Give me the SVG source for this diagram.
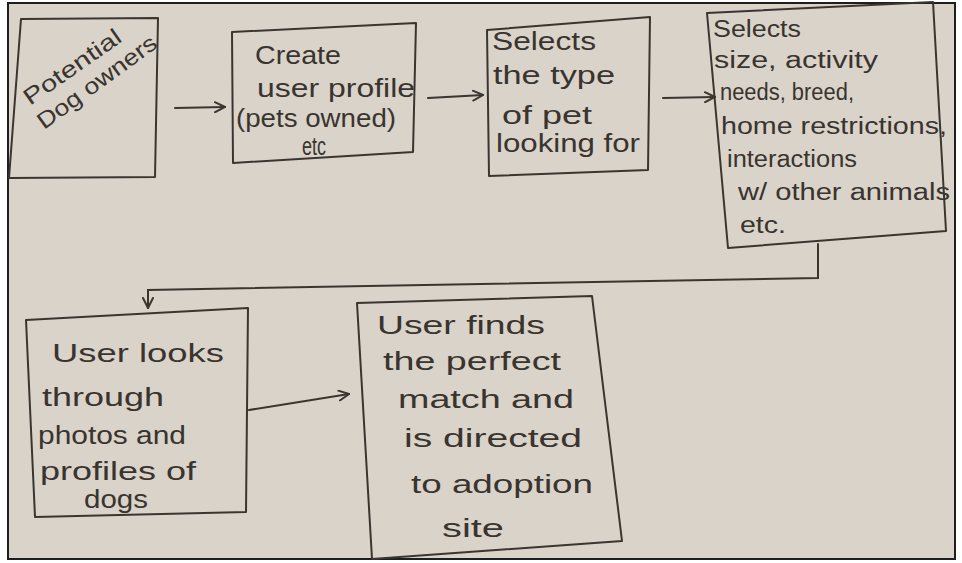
<svg xmlns="http://www.w3.org/2000/svg" width="962" height="563" viewBox="0 0 962 563">
<style>
.box{fill:none;stroke:#3b3530;stroke-width:2;stroke-linejoin:round}
.t{font-family:"Liberation Sans","DejaVu Sans",sans-serif;font-size:25px;fill:#3a342e}
.s{font-size:23px}
.line{fill:none;stroke:#3b3530;stroke-width:2;stroke-linecap:round}
</style>
<defs>
<marker id="ah" viewBox="0 0 12 12" refX="11" refY="6" markerWidth="12" markerHeight="12" markerUnits="userSpaceOnUse" orient="auto">
<path d="M1,1 L11,6 L1,11" fill="none" stroke="#3b3530" stroke-width="2" stroke-linecap="round"/>
</marker>
</defs>
<rect x="0" y="0" width="962" height="563" fill="#ffffff"/>
<rect x="8" y="3" width="947" height="556" fill="#d9d3ca" stroke="#1e1e1e" stroke-width="2"/>
<g id="node-potential-owners">
<polygon class="box" points="21,19 158,18 155,177 9,178"/>
<text class="t s" x="30" y="106" transform="rotate(-35 30 106)" textLength="114" lengthAdjust="spacingAndGlyphs" fill="#5e5750">Potential</text>
<text class="t s" x="44" y="130" transform="rotate(-36 44 130)" textLength="142" lengthAdjust="spacingAndGlyphs">Dog owners</text>
</g>
<g id="node-create-profile">
<polygon class="box" points="232,32 416,23 413,152 233,163"/>
<text class="t" x="255" y="64" textLength="86" lengthAdjust="spacingAndGlyphs">Create</text>
<text class="t" x="257" y="97" textLength="158" lengthAdjust="spacingAndGlyphs">user profile</text>
<text class="t" x="236" y="127" font-size="22" textLength="160" lengthAdjust="spacingAndGlyphs">(pets owned)</text>
<text class="t" x="302" y="155" font-size="11" textLength="24" lengthAdjust="spacingAndGlyphs">etc</text>
</g>
<g id="node-select-type">
<polygon class="box" points="487,30 650,17 648,170 489,176"/>
<text class="t" x="492" y="50" textLength="104" lengthAdjust="spacingAndGlyphs">Selects</text>
<text class="t" x="493" y="84" textLength="122" lengthAdjust="spacingAndGlyphs">the type</text>
<text class="t" x="502" y="124" textLength="90" lengthAdjust="spacingAndGlyphs">of pet</text>
<text class="t" x="496" y="152" textLength="144" lengthAdjust="spacingAndGlyphs">looking for</text>
</g>
<g id="node-select-attributes">
<polygon class="box" points="707,13 933,2 946,231 728,248"/>
<text class="t s" x="713" y="37" textLength="88" lengthAdjust="spacingAndGlyphs">Selects</text>
<text class="t s" x="714" y="68" textLength="164" lengthAdjust="spacingAndGlyphs">size, activity</text>
<text class="t s" x="720" y="100" textLength="134" lengthAdjust="spacingAndGlyphs">needs, breed,</text>
<text class="t s" x="721" y="134" textLength="226" lengthAdjust="spacingAndGlyphs">home restrictions,</text>
<text class="t s" x="727" y="167" textLength="130" lengthAdjust="spacingAndGlyphs">interactions</text>
<text class="t s" x="738" y="200" textLength="212" lengthAdjust="spacingAndGlyphs">w/ other animals</text>
<text class="t s" x="740" y="233" textLength="46" lengthAdjust="spacingAndGlyphs">etc.</text>
</g>
<g id="node-browse">
<polygon class="box" points="26,320 248,308 246,512 35,517"/>
<text class="t" x="52" y="362" textLength="172" lengthAdjust="spacingAndGlyphs">User looks</text>
<text class="t" x="42" y="406" textLength="122" lengthAdjust="spacingAndGlyphs">through</text>
<text class="t" x="38" y="444" textLength="148" lengthAdjust="spacingAndGlyphs">photos and</text>
<text class="t" x="40" y="480" textLength="156" lengthAdjust="spacingAndGlyphs">profiles of</text>
<text class="t" x="84" y="508" font-size="22" textLength="64" lengthAdjust="spacingAndGlyphs">dogs</text>
</g>
<g id="node-match">
<polygon class="box" points="357,303 592,296 622,541 372,559"/>
<text class="t" x="377" y="334" textLength="168" lengthAdjust="spacingAndGlyphs">User finds</text>
<text class="t" x="383" y="370" textLength="178" lengthAdjust="spacingAndGlyphs">the perfect</text>
<text class="t" x="398" y="408" textLength="176" lengthAdjust="spacingAndGlyphs">match and</text>
<text class="t" x="404" y="447" textLength="178" lengthAdjust="spacingAndGlyphs">is directed</text>
<text class="t" x="411" y="493" textLength="182" lengthAdjust="spacingAndGlyphs">to adoption</text>
<text class="t" x="442" y="537" textLength="62" lengthAdjust="spacingAndGlyphs">site</text>
</g>
<g id="connectors">
<path class="line" d="M175,108 L225,107" marker-end="url(#ah)"/>
<path class="line" d="M428,98 L483,95" marker-end="url(#ah)"/>
<path class="line" d="M663,98 L715,97" marker-end="url(#ah)"/>
<path class="line" d="M818,244 L818,278 L148,290 L148,308" marker-end="url(#ah)"/>
<path class="line" d="M249,410 L349,394" marker-end="url(#ah)"/>
</g>
</svg>
